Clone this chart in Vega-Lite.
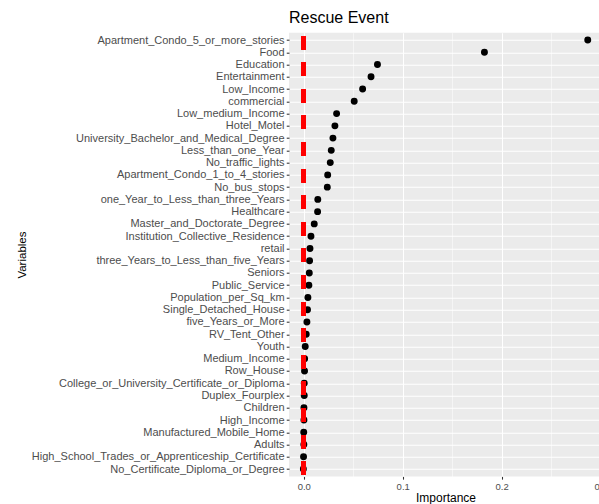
{
  "$schema": "https://vega.github.io/schema/vega-lite/v6.json",
  "autosize": {"type": "none"},
  "padding": {"left": 289, "top": 32.7, "right": -3, "bottom": 27.6},
  "width": 313,
  "height": 443.7,
  "background": "white",
  "config": {
    "view": {"fill": "#EBEBEB", "stroke": null},
    "font": "Liberation Sans",
    "axis": {
      "labelFont": "Liberation Sans",
      "titleFont": "Liberation Sans",
      "labelColor": "#4D4D4D",
      "titleColor": "#000000",
      "titleFontWeight": "normal",
      "tickColor": "#333333",
      "tickWidth": 1.07,
      "tickSize": 2.75,
      "domain": false,
      "gridColor": "#FFFFFF",
      "gridWidth": 1.07,
      "gridOpacity": 1,
      "labelLimit": 0
    }
  },
  "title": {
    "text": "Rescue Event",
    "anchor": "start",
    "frame": "group",
    "font": "Liberation Sans",
    "fontSize": 16,
    "fontWeight": "normal",
    "color": "#000000",
    "offset": 5
  },
  "data": {
    "values": [
      {"variable": "Apartment_Condo_5_or_more_stories", "importance": 0.287},
      {"variable": "Food", "importance": 0.1826},
      {"variable": "Education", "importance": 0.0745},
      {"variable": "Entertainment", "importance": 0.068},
      {"variable": "Low_Income", "importance": 0.0595},
      {"variable": "commercial", "importance": 0.051},
      {"variable": "Low_medium_Income", "importance": 0.0332},
      {"variable": "Hotel_Motel", "importance": 0.0315},
      {"variable": "University_Bachelor_and_Medical_Degree", "importance": 0.0295},
      {"variable": "Less_than_one_Year", "importance": 0.0278},
      {"variable": "No_traffic_lights", "importance": 0.0268},
      {"variable": "Apartment_Condo_1_to_4_stories", "importance": 0.0242},
      {"variable": "No_bus_stops", "importance": 0.0238},
      {"variable": "one_Year_to_Less_than_three_Years", "importance": 0.0142},
      {"variable": "Healthcare", "importance": 0.014},
      {"variable": "Master_and_Doctorate_Degree", "importance": 0.0106},
      {"variable": "Institution_Collective_Residence", "importance": 0.0073},
      {"variable": "retail", "importance": 0.0063},
      {"variable": "three_Years_to_Less_than_five_Years", "importance": 0.0059},
      {"variable": "Seniors", "importance": 0.0056},
      {"variable": "Public_Service", "importance": 0.0052},
      {"variable": "Population_per_Sq_km", "importance": 0.0042},
      {"variable": "Single_Detached_House", "importance": 0.0038},
      {"variable": "five_Years_or_More", "importance": 0.0032},
      {"variable": "RV_Tent_Other", "importance": 0.0025},
      {"variable": "Youth", "importance": 0.0015},
      {"variable": "Medium_Income", "importance": 0.0009},
      {"variable": "Row_House", "importance": 0.0008},
      {"variable": "College_or_University_Certificate_or_Diploma", "importance": 0.0005},
      {"variable": "Duplex_Fourplex", "importance": 0.0005},
      {"variable": "Children", "importance": 0.0002},
      {"variable": "High_Income", "importance": 0.0002},
      {"variable": "Manufactured_Mobile_Home", "importance": 0.0},
      {"variable": "Adults", "importance": 0.0001},
      {"variable": "High_School_Trades_or_Apprenticeship_Certificate", "importance": -0.0002},
      {"variable": "No_Certificate_Diploma_or_Degree", "importance": -0.0004}
    ]
  },
  "resolve": {"axis": {"x": "independent"}},
  "layer": [
    {
      "mark": {"type": "point", "filled": true, "shape": "circle", "size": 48, "color": "#000000", "opacity": 1},
      "encoding": {
        "y": {
          "field": "variable",
          "type": "nominal",
          "sort": null,
          "scale": {"type": "point", "padding": 0.6},
          "axis": {
            "title": "Variables",
            "titleFontSize": 11.5,
            "titleX": -264,
            "titleBaseline": "alphabetic",
            "labelFontSize": 11,
            "labelPadding": 2.2,
            "grid": true
          }
        },
        "x": {
          "field": "importance",
          "type": "quantitative",
          "scale": {"domain": [-0.0149, 0.3014], "nice": false, "zero": false},
          "axis": {
            "orient": "bottom",
            "title": "Importance",
            "titleFontSize": 12,
            "titlePadding": 1,
            "values": [0, 0.1, 0.2, 0.3],
            "format": ".1f",
            "labelFontSize": 9.5,
            "labelPadding": 2.5,
            "labelFlush": false,
            "labelOverlap": false,
            "grid": true
          }
        }
      }
    },
    {
      "mark": {"type": "rule", "color": "#FF0000", "strokeWidth": 4, "strokeDash": [13.3, 13.3], "strokeDashOffset": 23.4, "strokeCap": "butt"},
      "encoding": {
        "x": {
          "datum": 0,
          "type": "quantitative",
          "axis": {
            "orient": "bottom",
            "title": null,
            "values": [0.05, 0.15, 0.25],
            "labels": false,
            "ticks": false,
            "grid": true,
            "gridWidth": 0.53
          }
        }
      }
    }
  ]
}
